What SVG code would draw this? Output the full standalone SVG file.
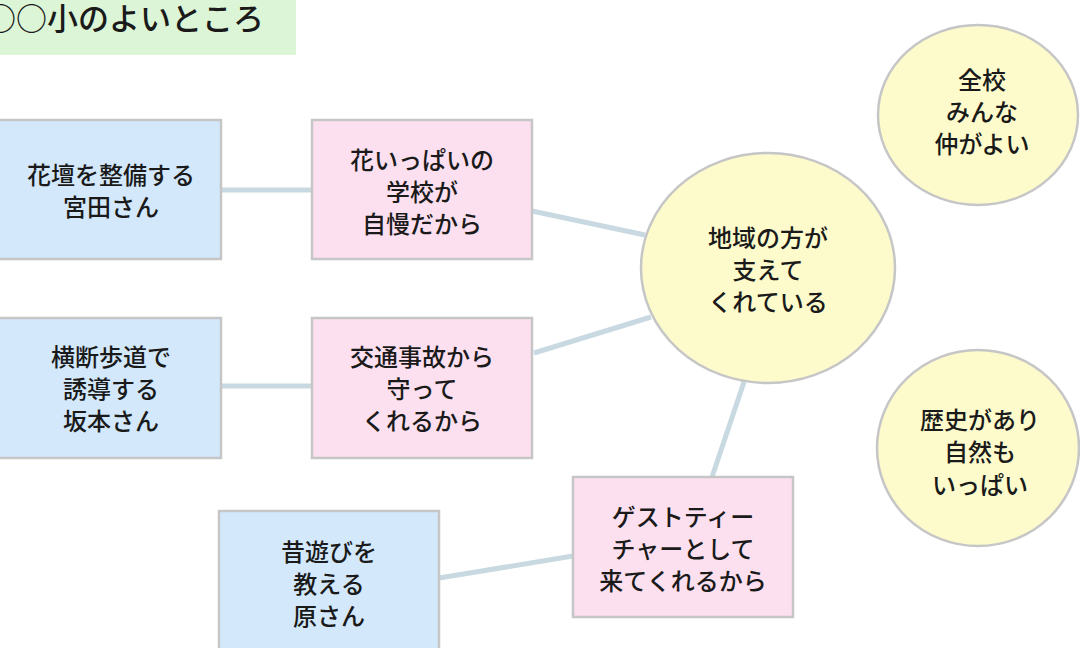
<svg xmlns="http://www.w3.org/2000/svg" width="1080" height="648" viewBox="0 0 1080 648">
<style>
text{font-family:"Noto Sans CJK JP","Noto Sans",sans-serif;font-size:24px;fill:#1a1a1a;text-anchor:middle;dominant-baseline:central;font-weight:500}
.blue{fill:#d3e8fb;stroke:#c6c6c6;stroke-width:2.5}
.pink{fill:#fde0ef;stroke:#c6c6c6;stroke-width:2.5}
.yel{fill:#fdfbcc;stroke:#c6c6c6;stroke-width:2.5}
.conn{stroke:#c9d9e1;stroke-width:5;fill:none}
.title{font-size:31px;text-anchor:start;dominant-baseline:auto}
</style>
<rect width="1080" height="648" fill="#ffffff"/>
<g id="title">
<rect x="-5" y="-5" width="301" height="60" fill="#dcf5d6"/>
<text class="title" x="-15" y="30">○○小のよいところ</text>
</g>
<g id="connectors">
<line class="conn" x1="221" y1="190" x2="312" y2="190"/>
<line class="conn" x1="221" y1="386" x2="312" y2="386"/>
<line class="conn" x1="439" y1="578" x2="573" y2="556"/>
<line class="conn" x1="532" y1="211" x2="645" y2="235"/>
<line class="conn" x1="534" y1="353" x2="651" y2="317"/>
<line class="conn" x1="712" y1="477" x2="744" y2="382"/>
</g>
<g id="n-miyata">
<rect class="blue" x="-2" y="120" width="223" height="139"/>
<text x="111" y="173">花壇を整備する</text>
<text x="111" y="205">宮田さん</text>
</g>
<g id="n-hana">
<rect class="pink" x="312" y="120" width="220" height="139"/>
<text x="422" y="158">花いっぱいの</text>
<text x="422" y="190">学校が</text>
<text x="422" y="222">自慢だから</text>
</g>
<g id="n-sakamoto">
<rect class="blue" x="-2" y="318" width="223" height="140"/>
<text x="111" y="355">横断歩道で</text>
<text x="111" y="387">誘導する</text>
<text x="111" y="419">坂本さん</text>
</g>
<g id="n-kotsu">
<rect class="pink" x="312" y="318" width="220" height="140"/>
<text x="422" y="355">交通事故から</text>
<text x="422" y="387">守って</text>
<text x="422" y="419">くれるから</text>
</g>
<g id="n-hara">
<rect class="blue" x="219" y="511" width="220" height="145"/>
<text x="329" y="550">昔遊びを</text>
<text x="329" y="582">教える</text>
<text x="329" y="614">原さん</text>
</g>
<g id="n-guest">
<rect class="pink" x="573" y="477" width="220" height="140"/>
<text x="683" y="515">ゲストティー</text>
<text x="683" y="547">チャーとして</text>
<text x="683" y="579">来てくれるから</text>
</g>
<g id="n-center">
<ellipse class="yel" cx="768" cy="268" rx="127" ry="115"/>
<text x="768" y="236">地域の方が</text>
<text x="768" y="268">支えて</text>
<text x="768" y="300">くれている</text>
</g>
<g id="n-zenko">
<ellipse class="yel" cx="978" cy="115" rx="100" ry="90"/>
<text x="982" y="78">全校</text>
<text x="982" y="110">みんな</text>
<text x="982" y="142">仲がよい</text>
</g>
<g id="n-rekishi">
<ellipse class="yel" cx="978" cy="448" rx="101" ry="98"/>
<text x="980" y="418">歴史があり</text>
<text x="980" y="450">自然も</text>
<text x="980" y="483">いっぱい</text>
</g>
</svg>
